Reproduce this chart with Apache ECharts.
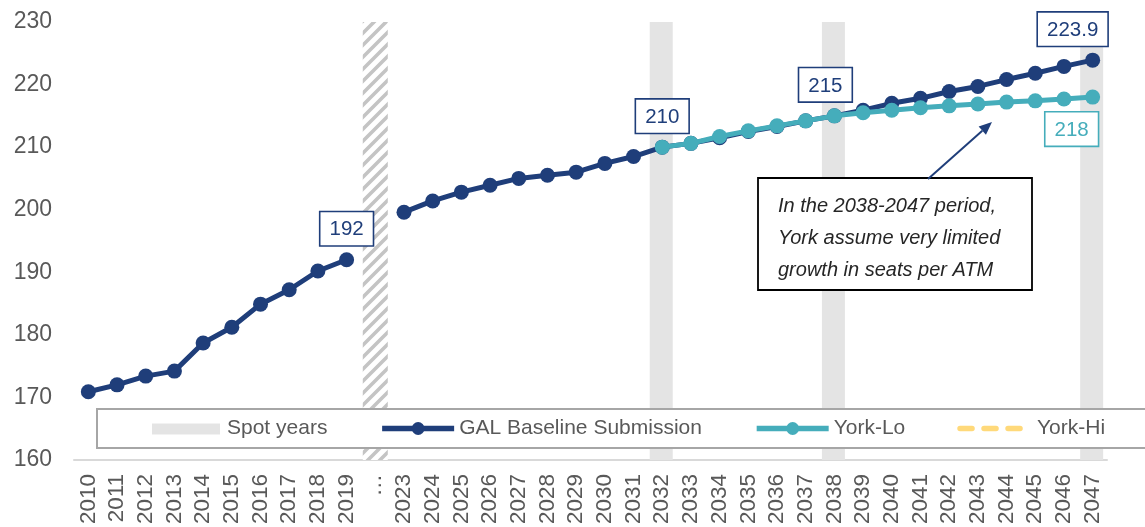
<!DOCTYPE html>
<html>
<head>
<meta charset="utf-8">
<script src="https://cdn.jsdelivr.net/npm/echarts@6/dist/echarts.min.js"></script>
<style>
  html, body { margin: 0; padding: 0; background: #fff; }
  #chart { width: 1145px; height: 527px; }
</style>
</head>
<body>
<div id="chart"></div>
<script>
// Years on the x axis; the "…" slot marks the skipped 2020-2022 period
const years = ['2010','2011','2012','2013','2014','2015','2016','2017','2018','2019','…',
  '2023','2024','2025','2026','2027','2028','2029','2030','2031','2032','2033','2034','2035',
  '2036','2037','2038','2039','2040','2041','2042','2043','2044','2045','2046','2047'];

// Seats per ATM, GAL baseline submission
const galBaseline = [170.9, 172.0, 173.4, 174.2, 178.7, 181.2, 184.9, 187.2, 190.2, 192, null,
  199.6, 201.4, 202.8, 203.9, 205.0, 205.5, 206.0, 207.4, 208.5,
  210, 210.6, 211.5, 212.5, 213.3, 214.2, 215, 215.9, 217.0, 217.8, 218.9, 219.7, 220.8, 221.8, 222.9, 223.9];

// York-Lo scenario, 2032 onwards
const yorkLoYears = ['2032','2033','2034','2035','2036','2037','2038','2039','2040','2041',
  '2042','2043','2044','2045','2046','2047'];
const yorkLoValues = [210, 210.6, 211.7, 212.6, 213.4, 214.2, 215, 215.5, 215.9, 216.3,
  216.6, 216.9, 217.2, 217.4, 217.7, 218];

// York-Hi scenario (legend entry only)
const yorkHiValues = [];

// Highlighted spot years and the break slot
const spotYears = ['2032', '2038', '2047'];
const breakSlot = '…';

// Points that carry a value label
const galLabelYears = ['2019', '2032', '2038', '2047'];
const yorkLoLabelYears = ['2047'];

const yTicks = { min: 160, max: 230, step: 10 };

const NAVY = '#1f3e7a';
const TEAL = '#45adbb';
const GOLD = '#ffd97a';
const SPOT = '#e4e4e4';
const FONT = 'Liberation Sans, Arial, sans-serif';

// diagonal hatch used for the break slot
function hatchPattern() {
  const s = 12;
  const c = document.createElement('canvas');
  c.width = s; c.height = s;
  const g = c.getContext('2d');
  g.fillStyle = '#ffffff';
  g.fillRect(0, 0, s, s);
  g.strokeStyle = '#c4c4c4';
  g.lineWidth = 3.6;
  g.beginPath();
  g.moveTo(-3, s + 3); g.lineTo(s + 3, -3);
  g.moveTo(-3, 3); g.lineTo(3, -3);
  g.moveTo(s - 3, s + 3); g.lineTo(s + 3, s - 3);
  g.stroke();
  return c;
}

// legend swatch for the spot-year bars: a flat grey band with transparent margin
function spotSwatch() {
  const c = document.createElement('canvas');
  c.width = 72; c.height = 16;
  const g = c.getContext('2d');
  g.fillStyle = SPOT;
  g.fillRect(2, 3, 68, 11);
  return 'image://' + c.toDataURL();
}

const labelBox = (color) => ({
  show: true,
  position: 'top',
  distance: 7,
  color: color,
  fontFamily: FONT,
  fontSize: 20.5,
  backgroundColor: '#ffffff',
  borderColor: color,
  borderWidth: 1.6,
  padding: [7, 9, 5, 9],
  formatter: (p) => String(p.value)
});

const galData = galBaseline.map((v, i) => {
  if (galLabelYears.includes(years[i])) {
    const lbl = labelBox(NAVY);
    if (years[i] === '2038') lbl.offset = [-9, 0];
    if (years[i] === '2047') lbl.offset = [-20, 0];
    return { value: v, label: lbl };
  }
  return v;
});

const yorkLoData = years.map((y) => {
  const k = yorkLoYears.indexOf(y);
  if (k < 0) return null;
  const v = yorkLoValues[k];
  if (yorkLoLabelYears.includes(y)) {
    const lbl = labelBox(TEAL);
    lbl.position = 'bottom';
    lbl.distance = 8;
    lbl.offset = [-21, 0];
    return { value: v, label: lbl };
  }
  return v;
});

const spotData = years.map((y) => spotYears.includes(y) ? yTicks.max : null);
const breakData = years.map((y) => y === breakSlot ? yTicks.max : null);

// annotation arrow geometry (pixel space)
const arrowFrom = [928, 179];
const arrowTo = [992, 122];
const ang = Math.atan2(arrowTo[1] - arrowFrom[1], arrowTo[0] - arrowFrom[0]);
const headLen = 13, headW = 5.5;
const bx = arrowTo[0] - headLen * Math.cos(ang), by = arrowTo[1] - headLen * Math.sin(ang);
const arrowHead = [
  arrowTo,
  [bx + headW * Math.sin(ang), by - headW * Math.cos(ang)],
  [bx - headW * Math.sin(ang), by + headW * Math.cos(ang)]
];

const chart = echarts.init(document.getElementById('chart'), null, { renderer: 'canvas' });

chart.setOption({
  animation: false,
  backgroundColor: '#ffffff',
  textStyle: { fontFamily: FONT },
  grid: { left: 74, right: 38, top: 22, bottom: 67, containLabel: false },
  legend: {
    left: 99, top: 408,
    z: 7,
    padding: [10, 8, 9, 51],
    backgroundColor: 'transparent',
    borderWidth: 0,
    itemWidth: 72,
    itemHeight: 16,
    itemGap: 52,
    lineStyle: { width: 5.5 },
    textStyle: { color: '#595959', fontSize: 21, fontFamily: FONT },
    data: [
      { name: 'Spot years', icon: spotSwatch() },
      { name: 'GAL Baseline Submission' },
      { name: 'York-Lo' },
      { name: 'York-Hi', itemStyle: { opacity: 0 }, lineStyle: { cap: 'round', type: [12, 12], width: 5.5 } }
    ]
  },
  xAxis: {
    type: 'category',
    data: years,
    boundaryGap: true,
    axisLine: { show: true, lineStyle: { color: '#d9d9d9', width: 2 } },
    axisTick: { show: false },
    axisLabel: {
      interval: 0, rotate: 90, margin: 14,
      color: '#595959', fontSize: 22.5, fontFamily: FONT
    }
  },
  yAxis: {
    type: 'value',
    min: yTicks.min, max: yTicks.max, interval: yTicks.step,
    axisLine: { show: false },
    axisTick: { show: false },
    splitLine: { show: false },
    axisLabel: { color: '#595959', fontSize: 23, margin: 22, fontFamily: FONT }
  },
  series: [
    {
      name: 'Spot years',
      type: 'bar',
      data: spotData,
      barWidth: 23,
      barGap: '-100%',
      itemStyle: { color: SPOT },
      z: 1
    },
    {
      name: 'break',
      type: 'bar',
      data: breakData,
      barWidth: 25,
      barGap: '-100%',
      itemStyle: { color: { image: hatchPattern(), repeat: 'repeat' } },
      z: 1
    },
    {
      name: 'GAL Baseline Submission',
      type: 'line',
      data: galData,
      connectNulls: false,
      symbol: 'circle',
      symbolSize: 15,
      lineStyle: { color: NAVY, width: 5 },
      itemStyle: { color: NAVY },
      z: 3
    },
    {
      name: 'York-Lo',
      type: 'line',
      data: yorkLoData,
      symbol: 'circle',
      symbolSize: 15,
      lineStyle: { color: TEAL, width: 5 },
      itemStyle: { color: TEAL },
      z: 4
    },
    {
      name: 'York-Hi',
      type: 'line',
      data: yorkHiValues,
      symbol: 'none',
      lineStyle: { color: GOLD, width: 5.5, type: [12, 12], cap: 'round' },
      itemStyle: { color: GOLD },
      z: 4
    }
  ],
  graphic: [
    // legend panel: white fill, frame open towards the right edge
    {
      type: 'rect',
      shape: { x: 97, y: 409, width: 1060, height: 39 },
      style: { fill: '#ffffff', stroke: null },
      z: 6
    },
    {
      type: 'polyline',
      shape: { points: [[1160, 409], [97, 409], [97, 448], [1160, 448]] },
      style: { stroke: '#a6a6a6', lineWidth: 2, fill: null },
      z: 6
    },
    {
      type: 'rect',
      shape: { x: 758, y: 178, width: 274, height: 112 },
      style: { fill: '#ffffff', stroke: '#000000', lineWidth: 1.8 },
      z: 10
    },
    {
      type: 'text',
      x: 778, y: 190,
      style: {
        text: 'In the 2038-2047 period,\nYork assume very limited\ngrowth in seats per ATM',
        fill: '#262626',
        font: 'italic 20px ' + FONT,
        lineHeight: 32
      },
      z: 11
    },
    {
      type: 'line',
      shape: { x1: arrowFrom[0], y1: arrowFrom[1], x2: bx, y2: by },
      style: { stroke: NAVY, lineWidth: 2 },
      z: 10
    },
    {
      type: 'polygon',
      shape: { points: arrowHead },
      style: { fill: NAVY },
      z: 10
    }
  ]
});
</script>
</body>
</html>
